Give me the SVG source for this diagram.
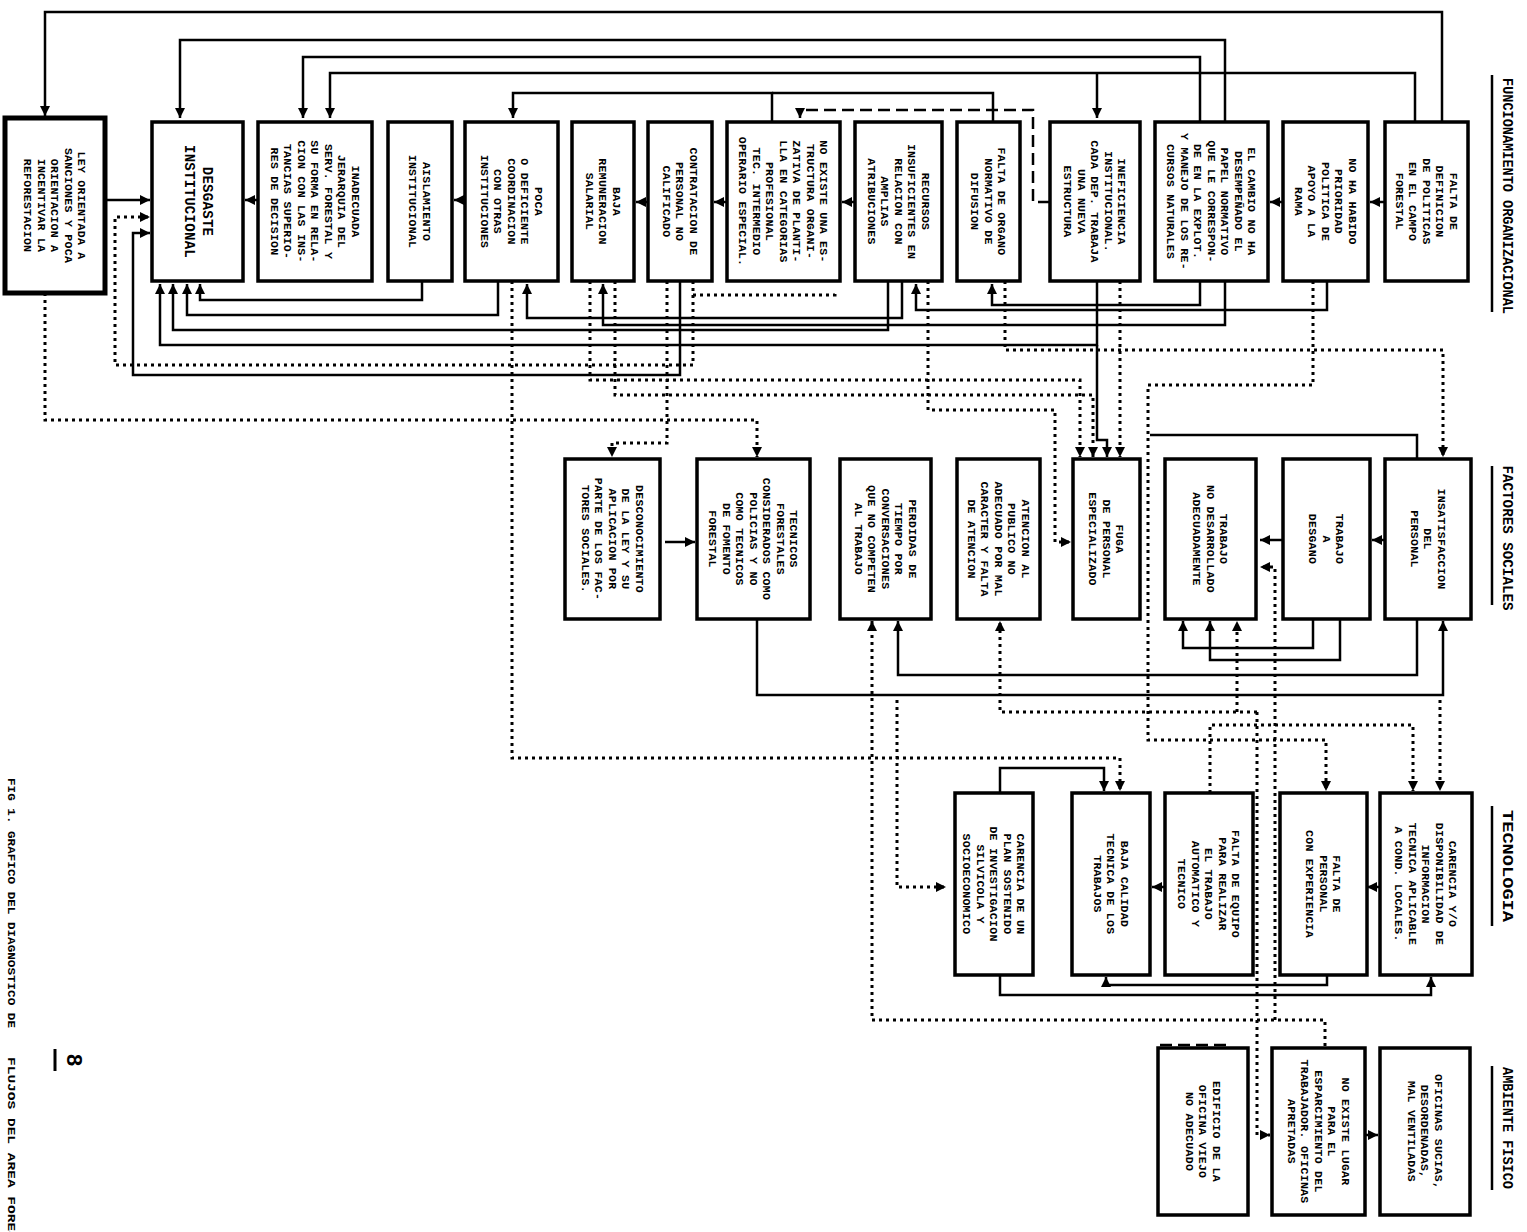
<svg xmlns="http://www.w3.org/2000/svg" width="1527" height="1232" viewBox="0 0 1527 1232">
<style>
.box{fill:#fff;stroke:#000;stroke-width:3.5}
.s{fill:none;stroke:#000;stroke-width:2.5}
.d{fill:none;stroke:#000;stroke-width:3;stroke-dasharray:3 4}
.da{fill:none;stroke:#000;stroke-width:2.5;stroke-dasharray:12 6}
.t{font-family:"Liberation Mono",monospace;font-weight:bold;font-size:11.5px;letter-spacing:0.3px;text-anchor:middle;dominant-baseline:central}
.h{font-family:"Liberation Mono",monospace;font-weight:bold;font-size:14px;dominant-baseline:central}
.ul{stroke:#000;stroke-width:2.5}
</style>
<defs>
<marker id="a" viewBox="0 0 10 10" refX="10" refY="5" markerWidth="10" markerHeight="10" markerUnits="userSpaceOnUse" orient="auto"><path d="M0,0 L10,5 L0,10 z"/></marker>
</defs>
<rect width="1527" height="1232" fill="#fff"/>

<g id="connectors">
<path class="s" d="M1442,122 V12 H45 V116" marker-end="url(#a)"/>
<path class="s" d="M1415,122 V73 H330 V118" marker-end="url(#a)"/>
<path class="s" d="M1097,73 V118" marker-end="url(#a)"/>
<path class="s" d="M1225,122 V40 H180 V118" marker-end="url(#a)"/>
<path class="s" d="M1200,122 V57 H303 V118" marker-end="url(#a)"/>
<path class="s" d="M772,122 V93 H513 V118" marker-end="url(#a)"/>
<path class="s" d="M993,122 V93 H772"/>
<path class="da" d="M1050,202 H1033 V110 H800 V118" marker-end="url(#a)"/>
<path class="s" d="M105,200 H150" marker-end="url(#a)"/>
<path class="s" d="M258,200 H245" marker-end="url(#a)"/>
<path class="s" d="M465,200 H454" marker-end="url(#a)"/>
<path class="s" d="M648,202 H636" marker-end="url(#a)"/>
<path class="s" d="M727,202 H714" marker-end="url(#a)"/>
<path class="s" d="M855,202 H842" marker-end="url(#a)"/>
<path class="s" d="M1283,202 H1270" marker-end="url(#a)"/>
<path class="s" d="M1385,202 H1370" marker-end="url(#a)"/>

<path class="s" d="M422,281 V300 H200 V284" marker-end="url(#a)"/>
<path class="s" d="M498,281 V315 H187 V284" marker-end="url(#a)"/>
<path class="s" d="M888,281 V330 H173 V284" marker-end="url(#a)"/>
<path class="s" d="M1097,281 V345 H160 V284" marker-end="url(#a)"/>
<path class="s" d="M680,281 V375 H133 V233 H150" marker-end="url(#a)"/>
<path class="s" d="M902,281 V318 H527 V284" marker-end="url(#a)"/>
<path class="s" d="M1200,281 V305 H992 V284" marker-end="url(#a)"/>
<path class="s" d="M1225,281 V325 H603 V284" marker-end="url(#a)"/>
<path class="s" d="M1327,281 V310 H916 V284" marker-end="url(#a)"/>

<path class="d" d="M45,293 V420 H757 V457" marker-end="url(#a)"/>
<path class="d" d="M667,281 V443 H612 V457" marker-end="url(#a)"/>
<path class="d" d="M693,281 V295 H835 V290 M693,295 V365 H115 V217 H150" marker-end="url(#a)"/>
<path class="d" d="M512,281 V758 H1120 V791" marker-end="url(#a)"/>
<path class="d" d="M590,281 V380 H1080 V457" marker-end="url(#a)"/>
<path class="d" d="M615,281 V395 H1093 V457" marker-end="url(#a)"/>
<path class="d" d="M1120,281 V457" marker-end="url(#a)"/>
<path class="s" d="M1097,345 V440 H1107 V457" marker-end="url(#a)"/>
<path class="d" d="M1313,281 V385 H1148 V740 H1326 V791" marker-end="url(#a)"/>
<path class="d" d="M928,281 V410 H1055 V542 H1071" marker-end="url(#a)"/>
<path class="d" d="M1005,281 V350 H1443 V457" marker-end="url(#a)"/>
<path class="s" d="M1417,459 V435 H1150"/>

<path class="s" d="M665,542 H695" marker-end="url(#a)"/>
<path class="s" d="M1283,540 H1260" marker-end="url(#a)"/>
<path class="d" d="M1275,1020 V567 H1260" marker-end="url(#a)"/>
<path class="s" d="M1385,540 H1372" marker-end="url(#a)"/>

<path class="s" d="M1313,619 V648 H1183 V621" marker-end="url(#a)"/>
<path class="s" d="M1340,619 V660 H1210 V621" marker-end="url(#a)"/>
<path class="s" d="M1417,619 V675 H898 V621" marker-end="url(#a)"/>
<path class="s" d="M757,619 V695 H1443 V621" marker-end="url(#a)"/>
<path class="d" d="M1257,712 H1000 V621" marker-end="url(#a)"/>
<path class="d" d="M1237,712 V621" marker-end="url(#a)"/>
<path class="d" d="M1325,1046 V1020 H872 V621" marker-end="url(#a)"/>
<path class="d" d="M897,700 V887 H946" marker-end="url(#a)"/>
<path class="d" d="M1210,793 V725 H1413 V791" marker-end="url(#a)"/>
<path class="d" d="M1440,700 V791" marker-end="url(#a)"/>

<path class="s" d="M1000,793 V768 H1104 V791" marker-end="url(#a)"/>
<path class="s" d="M1165,887 H1152" marker-end="url(#a)"/>
<path class="s" d="M1380,887 H1367" marker-end="url(#a)"/>
<path class="s" d="M1000,975 V995 H1431 V977" marker-end="url(#a)"/>
<path class="s" d="M1327,975 V985 H1106 V977" marker-end="url(#a)"/>

<path class="da" d="M1160,1045 H1230"/>
<path class="d" d="M1257,712 V1135 H1270" marker-end="url(#a)"/>
<path class="s" d="M1365,1135 H1378" marker-end="url(#a)"/>
</g>

<g id="n1"><rect class="box" x="5" y="118" width="100" height="175" style="stroke-width:5"/>
<text class="t" transform="translate(55,205.5) rotate(90)"><tspan x="0" y="-27">LEY ORIENTADA A</tspan><tspan x="0" y="-13.5">SANCIONES Y POCA</tspan><tspan x="0" y="0">ORIENTACION A</tspan><tspan x="0" y="13.5">INCENTIVAR LA</tspan><tspan x="0" y="27">REFORESTACION</tspan></text></g>
<g id="n2"><rect class="box" x="152" y="122" width="91" height="159"/>
<text class="t" style="font-size:14px" transform="translate(197.5,201.5) rotate(90)"><tspan x="0" y="-9">DESGASTE</tspan><tspan x="0" y="9">INSTITUCIONAL</tspan></text></g>
<g id="n3"><rect class="box" x="258" y="122" width="114" height="159"/>
<text class="t" transform="translate(315,201.5) rotate(90)"><tspan x="0" y="-40.5">INADECUADA</tspan><tspan x="0" y="-27">JERARQUIA DEL</tspan><tspan x="0" y="-13.5">SERV. FORESTAL Y</tspan><tspan x="0" y="0">SU FORMA EN RELA-</tspan><tspan x="0" y="13.5">CION CON LAS INS-</tspan><tspan x="0" y="27">TANCIAS SUPERIO-</tspan><tspan x="0" y="40.5">RES DE DECISION</tspan></text></g>
<g id="n4"><rect class="box" x="388" y="122" width="64" height="159"/>
<text class="t" transform="translate(420,201.5) rotate(90)"><tspan x="0" y="-6.75">AISLAMIENTO</tspan><tspan x="0" y="6.75">INSTITUCIONAL</tspan></text></g>
<g id="n5"><rect class="box" x="465" y="122" width="93" height="159"/>
<text class="t" transform="translate(511.5,201.5) rotate(90)"><tspan x="0" y="-27">POCA</tspan><tspan x="0" y="-13.5">O DEFICIENTE</tspan><tspan x="0" y="0">COORDINACION</tspan><tspan x="0" y="13.5">CON OTRAS</tspan><tspan x="0" y="27">INSTITUCIONES</tspan></text></g>
<g id="n6"><rect class="box" x="572" y="122" width="62" height="159"/>
<text class="t" transform="translate(603,201.5) rotate(90)"><tspan x="0" y="-13.5">BAJA</tspan><tspan x="0" y="0">REMUNERACION</tspan><tspan x="0" y="13.5">SALARIAL</tspan></text></g>
<g id="n7"><rect class="box" x="648" y="122" width="64" height="159"/>
<text class="t" transform="translate(680,201.5) rotate(90)"><tspan x="0" y="-13.5">CONTRATACION DE</tspan><tspan x="0" y="0">PERSONAL NO</tspan><tspan x="0" y="13.5">CALIFICADO</tspan></text></g>
<g id="n8"><rect class="box" x="727" y="122" width="113" height="159"/>
<text class="t" transform="translate(783.5,201.5) rotate(90)"><tspan x="0" y="-40.5">NO EXISTE UNA ES-</tspan><tspan x="0" y="-27">TRUCTURA ORGANI-</tspan><tspan x="0" y="-13.5">ZATIVA DE PLANTI-</tspan><tspan x="0" y="0">LLA EN CATEGORIAS</tspan><tspan x="0" y="13.5">PROFESIONAL</tspan><tspan x="0" y="27">TEC. INTERMEDIO</tspan><tspan x="0" y="40.5">OPERARIO ESPECIAL.</tspan></text></g>
<g id="n9"><rect class="box" x="855" y="122" width="87" height="159"/>
<text class="t" transform="translate(898.5,201.5) rotate(90)"><tspan x="0" y="-27">RECURSOS</tspan><tspan x="0" y="-13.5">INSUFICIENTES EN</tspan><tspan x="0" y="0">RELACION CON</tspan><tspan x="0" y="13.5">AMPLIAS</tspan><tspan x="0" y="27">ATRIBUCIONES</tspan></text></g>
<g id="n10"><rect class="box" x="957" y="122" width="63" height="159"/>
<text class="t" transform="translate(988.5,201.5) rotate(90)"><tspan x="0" y="-13.5">FALTA DE ORGANO</tspan><tspan x="0" y="0">NORMATIVO DE</tspan><tspan x="0" y="13.5">DIFUSION</tspan></text></g>
<g id="n11"><rect class="box" x="1050" y="122" width="90" height="159"/>
<text class="t" transform="translate(1095,201.5) rotate(90)"><tspan x="0" y="-27">INEFICIENCIA</tspan><tspan x="0" y="-13.5">INSTITUCIONAL.</tspan><tspan x="0" y="0">CADA DEP. TRABAJA</tspan><tspan x="0" y="13.5">UNA NUEVA</tspan><tspan x="0" y="27">ESTRUCTURA</tspan></text></g>
<g id="n12"><rect class="box" x="1155" y="122" width="113" height="159"/>
<text class="t" transform="translate(1211.5,201.5) rotate(90)"><tspan x="0" y="-40.5">EL CAMBIO NO HA</tspan><tspan x="0" y="-27">DESEMPEÑADO EL</tspan><tspan x="0" y="-13.5">PAPEL NORMATIVO</tspan><tspan x="0" y="0">QUE LE CORRESPON-</tspan><tspan x="0" y="13.5">DE EN LA EXPLOT.</tspan><tspan x="0" y="27">Y MANEJO DE LOS RE-</tspan><tspan x="0" y="40.5">CURSOS NATURALES</tspan></text></g>
<g id="n13"><rect class="box" x="1283" y="122" width="85" height="159"/>
<text class="t" transform="translate(1325.5,201.5) rotate(90)"><tspan x="0" y="-27">NO HA HABIDO</tspan><tspan x="0" y="-13.5">PRIORIDAD</tspan><tspan x="0" y="0">POLITICA DE</tspan><tspan x="0" y="13.5">APOYO A LA</tspan><tspan x="0" y="27">RAMA</tspan></text></g>
<g id="n14"><rect class="box" x="1385" y="122" width="83" height="159"/>
<text class="t" transform="translate(1426.5,201.5) rotate(90)"><tspan x="0" y="-27">FALTA DE</tspan><tspan x="0" y="-13.5">DEFINICION</tspan><tspan x="0" y="0">DE POLITICAS</tspan><tspan x="0" y="13.5">EN EL CAMPO</tspan><tspan x="0" y="27">FORESTAL</tspan></text></g>

<g id="f1"><rect class="box" x="565" y="459" width="95" height="160"/>
<text class="t" transform="translate(612.5,539) rotate(90)"><tspan x="0" y="-27">DESCONOCIMIENTO</tspan><tspan x="0" y="-13.5">DE LA LEY Y SU</tspan><tspan x="0" y="0">APLICACION POR</tspan><tspan x="0" y="13.5">PARTE DE LOS FAC-</tspan><tspan x="0" y="27">TORES SOCIALES.</tspan></text></g>
<g id="f2"><rect class="box" x="697" y="459" width="113" height="160"/>
<text class="t" transform="translate(753.5,539) rotate(90)"><tspan x="0" y="-40.5">TECNICOS</tspan><tspan x="0" y="-27">FORESTALES</tspan><tspan x="0" y="-13.5">CONSIDERADOS COMO</tspan><tspan x="0" y="0">POLICIAS Y NO</tspan><tspan x="0" y="13.5">COMO TECNICOS</tspan><tspan x="0" y="27">DE FOMENTO</tspan><tspan x="0" y="40.5">FORESTAL</tspan></text></g>
<g id="f3"><rect class="box" x="840" y="459" width="91" height="160"/>
<text class="t" transform="translate(885.5,539) rotate(90)"><tspan x="0" y="-27">PERDIDAS DE</tspan><tspan x="0" y="-13.5">TIEMPO POR</tspan><tspan x="0" y="0">CONVERSACIONES</tspan><tspan x="0" y="13.5">QUE NO COMPETEN</tspan><tspan x="0" y="27">AL TRABAJO</tspan></text></g>
<g id="f4"><rect class="box" x="957" y="459" width="83" height="160"/>
<text class="t" transform="translate(998.5,539) rotate(90)"><tspan x="0" y="-27">ATENCION AL</tspan><tspan x="0" y="-13.5">PUBLICO NO</tspan><tspan x="0" y="0">ADECUADO POR MAL</tspan><tspan x="0" y="13.5">CARACTER Y FALTA</tspan><tspan x="0" y="27">DE ATENCION</tspan></text></g>
<g id="f5"><rect class="box" x="1073" y="459" width="67" height="160"/>
<text class="t" transform="translate(1106.5,539) rotate(90)"><tspan x="0" y="-13.5">FUGA</tspan><tspan x="0" y="0">DE PERSONAL</tspan><tspan x="0" y="13.5">ESPECIALIZADO</tspan></text></g>
<g id="f6"><rect class="box" x="1165" y="459" width="91" height="160"/>
<text class="t" transform="translate(1210.5,539) rotate(90)"><tspan x="0" y="-13.5">TRABAJO</tspan><tspan x="0" y="0">NO DESARROLLADO</tspan><tspan x="0" y="13.5">ADECUADAMENTE</tspan></text></g>
<g id="f7"><rect class="box" x="1283" y="459" width="87" height="160"/>
<text class="t" transform="translate(1326.5,539) rotate(90)"><tspan x="0" y="-13.5">TRABAJO</tspan><tspan x="0" y="0">A</tspan><tspan x="0" y="13.5">DESGANO</tspan></text></g>
<g id="f8"><rect class="box" x="1385" y="459" width="86" height="160"/>
<text class="t" transform="translate(1428,539) rotate(90)"><tspan x="0" y="-13.5">INSATISFACCION</tspan><tspan x="0" y="0">DEL</tspan><tspan x="0" y="13.5">PERSONAL</tspan></text></g>

<g id="t1"><rect class="box" x="955" y="793" width="78" height="182"/>
<text class="t" transform="translate(994,884) rotate(90)"><tspan x="0" y="-27">CARENCIA DE UN</tspan><tspan x="0" y="-13.5">PLAN SOSTENIDO</tspan><tspan x="0" y="0">DE INVESTIGACION</tspan><tspan x="0" y="13.5">SILVICOLA Y</tspan><tspan x="0" y="27">SOCIOECONOMICO</tspan></text></g>
<g id="t2"><rect class="box" x="1072" y="793" width="78" height="182"/>
<text class="t" transform="translate(1111,884) rotate(90)"><tspan x="0" y="-13.5">BAJA CALIDAD</tspan><tspan x="0" y="0">TECNICA DE LOS</tspan><tspan x="0" y="13.5">TRABAJOS</tspan></text></g>
<g id="t3"><rect class="box" x="1165" y="793" width="88" height="182"/>
<text class="t" transform="translate(1209,884) rotate(90)"><tspan x="0" y="-27">FALTA DE EQUIPO</tspan><tspan x="0" y="-13.5">PARA REALIZAR</tspan><tspan x="0" y="0">EL TRABAJO</tspan><tspan x="0" y="13.5">AUTOMATICO Y</tspan><tspan x="0" y="27">TECNICO</tspan></text></g>
<g id="t4"><rect class="box" x="1280" y="793" width="87" height="182"/>
<text class="t" transform="translate(1323.5,884) rotate(90)"><tspan x="0" y="-13.5">FALTA DE</tspan><tspan x="0" y="0">PERSONAL</tspan><tspan x="0" y="13.5">CON EXPERIENCIA</tspan></text></g>
<g id="t5"><rect class="box" x="1380" y="793" width="92" height="182"/>
<text class="t" transform="translate(1426,884) rotate(90)"><tspan x="0" y="-27">CARENCIA Y/O</tspan><tspan x="0" y="-13.5">DISPONIBILIDAD DE</tspan><tspan x="0" y="0">INFORMACION</tspan><tspan x="0" y="13.5">TECNICA APLICABLE</tspan><tspan x="0" y="27">A COND. LOCALES.</tspan></text></g>

<g id="a1"><rect class="box" x="1158" y="1048" width="90" height="167"/>
<text class="t" transform="translate(1203,1131.5) rotate(90)"><tspan x="0" y="-13.5">EDIFICIO DE LA</tspan><tspan x="0" y="0">OFICINA VIEJO</tspan><tspan x="0" y="13.5">NO ADECUADO</tspan></text></g>
<g id="a2"><rect class="box" x="1272" y="1048" width="93" height="167"/>
<text class="t" transform="translate(1318.5,1131.5) rotate(90)"><tspan x="0" y="-27">NO EXISTE LUGAR</tspan><tspan x="0" y="-13.5">PARA EL</tspan><tspan x="0" y="0">ESPARCIMIENTO DEL</tspan><tspan x="0" y="13.5">TRABAJADOR. OFICINAS</tspan><tspan x="0" y="27">APRETADAS</tspan></text></g>
<g id="a3"><rect class="box" x="1380" y="1048" width="90" height="167"/>
<text class="t" transform="translate(1425,1131.5) rotate(90)"><tspan x="0" y="-13.5">OFICINAS SUCIAS,</tspan><tspan x="0" y="0">DESORDENADAS,</tspan><tspan x="0" y="13.5">MAL VENTILADAS</tspan></text></g>

<g id="headers">
<text class="h" text-anchor="middle" textLength="236" lengthAdjust="spacingAndGlyphs" transform="translate(1507,196) rotate(90)">FUNCIONAMIENTO ORGANIZACIONAL</text>
<line class="ul" x1="1492" y1="75" x2="1492" y2="312"/>
<text class="h" text-anchor="middle" textLength="145" lengthAdjust="spacingAndGlyphs" transform="translate(1507,538) rotate(90)">FACTORES SOCIALES</text>
<line class="ul" x1="1492" y1="466" x2="1492" y2="605"/>
<text class="h" text-anchor="middle" textLength="112" lengthAdjust="spacingAndGlyphs" transform="translate(1507,866) rotate(90)">TECNOLOGIA</text>
<line class="ul" x1="1492" y1="806" x2="1492" y2="926"/>
<text class="h" text-anchor="middle" textLength="122" lengthAdjust="spacingAndGlyphs" transform="translate(1507,1128) rotate(90)">AMBIENTE FISICO</text>
<line class="ul" x1="1492" y1="1066" x2="1492" y2="1190"/>
</g>
<g id="caption">
<text class="h" style="font-size:11px" textLength="250" lengthAdjust="spacingAndGlyphs" transform="translate(11,778) rotate(90)">FIG 1. GRAFICO DEL DIAGNOSTICO DE</text>
<text class="h" style="font-size:11px" textLength="209" lengthAdjust="spacingAndGlyphs" transform="translate(11,1057) rotate(90)">FLUJOS DEL AREA FORESTAL</text>
<text class="h" style="font-size:22px" text-anchor="middle" transform="translate(72,1060) rotate(90)">8</text>
<line class="ul" x1="55" y1="1049" x2="55" y2="1071" style="stroke-width:3"/>
</g>
</svg>
